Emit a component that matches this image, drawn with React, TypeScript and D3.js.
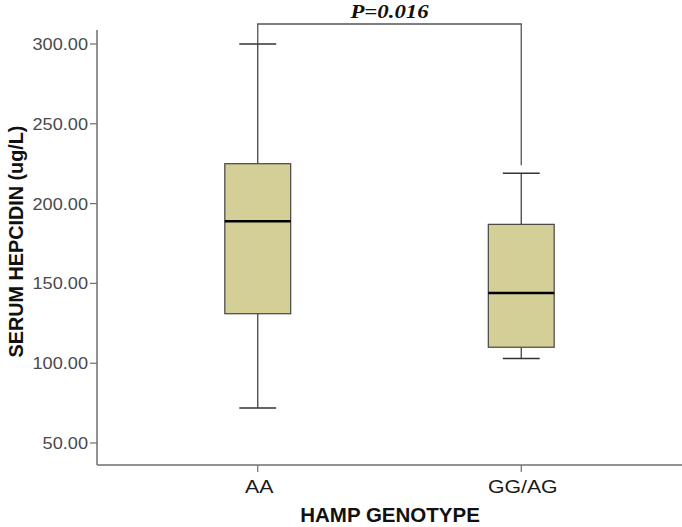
import React from "react";
import * as d3 from "d3";

const categories = ["AA", "GG/AG"];
const whiskerLow = [72, 103];
const q1 = [131, 110];
const median = [189, 144];
const q3 = [225, 187];
const whiskerHigh = [300, 219];
const yTicks = [50, 100, 150, 200, 250, 300];
const pLabel = "P=0.016";

const W = 682;
const H = 527;

function SText(props: {
  x: number;
  y: number;
  sx?: number;
  anchor?: string;
  size: number;
  weight?: string;
  style?: string;
  family?: string;
  fill?: string;
  dy?: string;
  children: React.ReactNode;
}) {
  const { x, y, sx = 1, anchor = "middle", size, weight = "normal", style = "normal", family, fill = "#111", dy, children } = props;
  return (
    <text
      transform={`translate(${x},${y}) scale(${sx},1)`}
      textAnchor={anchor}
      fontSize={size}
      fontWeight={weight}
      fontStyle={style}
      fontFamily={family}
      fill={fill}
      dy={dy}
    >
      {children}
    </text>
  );
}

export default function App() {
  const y = d3.scaleLinear().domain([50, 300]).range([443, 44]);
  const yBottom = 465;
  const yTop = 30;
  const xLeft = 97;
  const xRight = 682;
  const x = d3.scalePoint<string>().domain(categories).range([xLeft, xRight]).padding(0.61);
  const step = x.step();
  const boxW = step * 0.25;
  const capW = step * 0.14;
  const axisColor = "#6e6e6e";
  const font = "Arial, 'Liberation Sans', sans-serif";

  const cx0 = x(categories[0])!;
  const cx1 = x(categories[1])!;
  const bracketY = 24;

  return (
    <svg width={W} height={H} style={{ position: "absolute", left: 0, top: 0, background: "#fff" }}>
      {/* axes */}
      <line x1={xLeft} x2={xLeft} y1={yTop} y2={yBottom} stroke={axisColor} strokeWidth={1.5} />
      <line x1={xLeft} x2={xRight} y1={yBottom} y2={yBottom} stroke={axisColor} strokeWidth={1.5} />
      {yTicks.map((t) => (
        <g key={t}>
          <line x1={xLeft - 7} x2={xLeft} y1={y(t)} y2={y(t)} stroke={axisColor} strokeWidth={1.2} />
          <SText x={xLeft - 9} y={y(t)} dy="0.36em" anchor="end" size={16.5} sx={1.1} family={font} fill="#4a4a4a">
            {t.toFixed(2)}
          </SText>
        </g>
      ))}
      {categories.map((c) => (
        <g key={c}>
          <line x1={x(c)!} x2={x(c)!} y1={yBottom} y2={yBottom + 7} stroke={axisColor} strokeWidth={1.2} />
          <SText x={x(c)! + 1.5} y={yBottom + 28} size={19} sx={1.12} family={font} fill="#1a1a1a">
            {c}
          </SText>
        </g>
      ))}
      <SText x={390} y={521.5} size={20.5} weight="bold" family={font} fill="#111">
        HAMP GENOTYPE
      </SText>
      <text
        transform={`translate(23,241.5) rotate(-90)`}
        textAnchor="middle"
        fontFamily={font}
        fontWeight="bold"
        fontSize={19.8}
        fill="#111"
      >
        SERUM HEPCIDIN (ug/L)
      </text>

      {/* boxes */}
      {categories.map((c, i) => {
        const cx = x(c)!;
        return (
          <g key={c}>
            <line x1={cx} x2={cx} y1={y(whiskerHigh[i])} y2={y(q3[i])} stroke="#444" strokeWidth={1.3} />
            <line x1={cx} x2={cx} y1={y(q1[i])} y2={y(whiskerLow[i])} stroke="#444" strokeWidth={1.3} />
            <line x1={cx - capW / 2} x2={cx + capW / 2} y1={y(whiskerHigh[i])} y2={y(whiskerHigh[i])} stroke="#333" strokeWidth={1.5} />
            <line x1={cx - capW / 2} x2={cx + capW / 2} y1={y(whiskerLow[i])} y2={y(whiskerLow[i])} stroke="#333" strokeWidth={1.5} />
            <rect
              x={cx - boxW / 2}
              y={y(q3[i])}
              width={boxW}
              height={y(q1[i]) - y(q3[i])}
              fill="#d3cf97"
              stroke="#444"
              strokeWidth={1.2}
            />
            <line x1={cx - boxW / 2} x2={cx + boxW / 2} y1={y(median[i])} y2={y(median[i])} stroke="#000" strokeWidth={2.5} />
          </g>
        );
      })}

      {/* significance bracket */}
      <path
        d={`M${cx0},${y(whiskerHigh[0])} V${bracketY} H${cx1} V${y(whiskerHigh[1]) - 8}`}
        fill="none"
        stroke="#555"
        strokeWidth={1.3}
      />
      <SText
        x={(cx0 + cx1) / 2}
        y={17.5}
        size={19}
        sx={1.2}
        weight="bold"
        style="italic"
        family="'Liberation Serif', 'Times New Roman', serif"
        fill="#111"
      >
        {pLabel}
      </SText>
    </svg>
  );
}
